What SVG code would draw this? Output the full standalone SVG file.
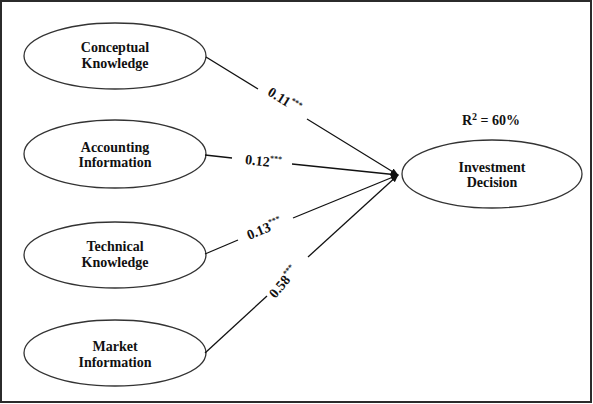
<svg xmlns="http://www.w3.org/2000/svg" width="593" height="404" viewBox="0 0 593 404">
<style>
.node ellipse{fill:#fff;stroke:#333;stroke-width:1.3}
.lbl{font-family:"Liberation Serif","Times New Roman",serif;font-weight:bold;font-size:14px;fill:#111;text-anchor:middle}
.coef{font-family:"Liberation Serif","Times New Roman",serif;font-weight:bold;font-size:14px;fill:#111;text-anchor:middle}
.sup{font-size:8px}
.sup2{font-size:10px}
.conn line{stroke:#111;stroke-width:1.3}
</style>
<defs>
<marker id="ah" viewBox="0 0 10 10" refX="9" refY="5" markerWidth="8" markerHeight="8" markerUnits="userSpaceOnUse" orient="auto">
<path d="M0,1 L10,5 L0,9 z" fill="#111"/>
</marker>
</defs>
<rect x="0" y="0" width="593" height="404" fill="#fff"/>
<rect x="1" y="1" width="590" height="401" fill="none" stroke="#2b2b2b" stroke-width="2"/>
<g id="conceptual" class="node">
<ellipse cx="115" cy="56" rx="91" ry="33"/>
<text class="lbl" x="115" y="52">Conceptual</text>
<text class="lbl" x="115" y="68">Knowledge</text>
</g>
<g id="accounting" class="node">
<ellipse cx="115" cy="154" rx="91" ry="34"/>
<text class="lbl" x="115" y="152">Accounting</text>
<text class="lbl" x="115" y="167">Information</text>
</g>
<g id="technical" class="node">
<ellipse cx="115" cy="255" rx="91" ry="33"/>
<text class="lbl" x="115" y="251">Technical</text>
<text class="lbl" x="115" y="267">Knowledge</text>
</g>
<g id="market" class="node">
<ellipse cx="115" cy="353" rx="91" ry="33"/>
<text class="lbl" x="115" y="351">Market</text>
<text class="lbl" x="115" y="367">Information</text>
</g>
<g id="investment" class="node">
<ellipse cx="492" cy="174" rx="90" ry="34"/>
<text class="lbl" x="492" y="172">Investment</text>
<text class="lbl" x="492" y="187">Decision</text>
<text class="lbl" x="491" y="125">R<tspan class="sup2" dy="-5">2</tspan><tspan dy="5"> = 60%</tspan></text>
</g>
<g class="conn" id="connectors">
<line x1="206" y1="57" x2="258" y2="89"/>
<line x1="307" y1="119" x2="398" y2="175" marker-end="url(#ah)"/>
<line x1="205" y1="155" x2="232" y2="158"/>
<line x1="292" y1="164" x2="398" y2="175" marker-end="url(#ah)"/>
<line x1="205" y1="254" x2="238" y2="240"/>
<line x1="293" y1="218" x2="398" y2="175" marker-end="url(#ah)"/>
<line x1="205" y1="353" x2="267" y2="296"/>
<line x1="308" y1="257" x2="398" y2="175" marker-end="url(#ah)"/>
</g>
<g id="coefficients">
<text class="coef" transform="translate(282,104) rotate(31.7)">0.11<tspan class="sup" dy="-6">***</tspan></text>
<text class="coef" transform="translate(263,166) rotate(5.9)">0.12<tspan class="sup" dy="-6">***</tspan></text>
<text class="coef" transform="translate(266,233) rotate(-22.4)">0.13<tspan class="sup" dy="-6">***</tspan></text>
<text class="coef" transform="translate(287,285) rotate(-50)">0.58<tspan class="sup" dy="-6">***</tspan></text>
</g>
</svg>
